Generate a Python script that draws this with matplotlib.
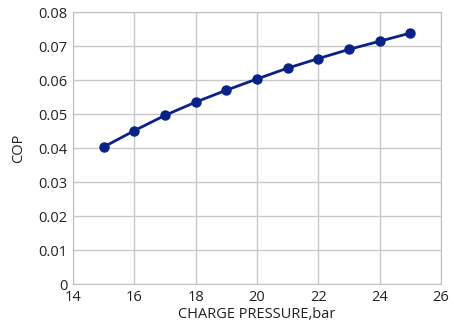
import matplotlib
matplotlib.use("Agg")
import matplotlib.pyplot as plt

# data
pressure = [15, 16, 17, 18, 19, 20, 21, 22, 23, 24, 25]
cop = [0.0403, 0.0451, 0.0496, 0.0535, 0.0570, 0.0603,
       0.0635, 0.0663, 0.0690, 0.0714, 0.0738]

plt.rcParams['font.family'] = ['Open Sans', 'DejaVu Sans']

fig = plt.figure(figsize=(4.54, 3.24), dpi=100)
ax = fig.add_axes([73 / 454, 1 - 284 / 324, (441 - 73) / 454, (284 - 12) / 324])

ax.plot(pressure, cop, color='#0a2288', lw=2, marker='o', ms=6.5, zorder=3)

ax.set_xlim(14, 26)
ax.set_ylim(0, 0.08)
ax.set_xticks(range(14, 27, 2))
ax.set_yticks([i / 100 for i in range(9)])
ax.set_yticklabels(['0'] + ['%.2f' % (i / 100) for i in range(1, 9)])

ax.grid(True, color='#c8c8c8', lw=1)
ax.set_axisbelow(True)
for s in ax.spines.values():
    s.set_color('#c0c0c0')
ax.tick_params(length=0, labelsize=10.5, colors='#222222', pad=4)

ax.set_xlabel('CHARGE PRESSURE,bar', fontsize=10.5, color='#222222', labelpad=2)
ax.set_ylabel('COP', fontsize=10.5, color='#222222', labelpad=9)

fig.savefig('out.png', dpi=100)
